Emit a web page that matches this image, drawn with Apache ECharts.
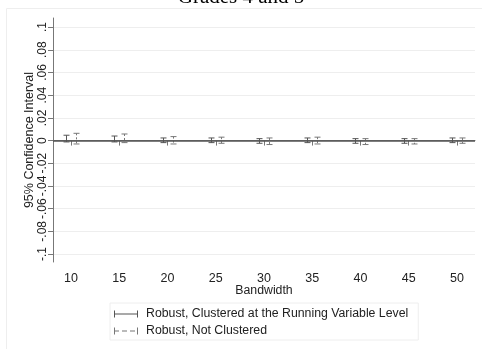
<!DOCTYPE html>
<html>
<head>
<meta charset="utf-8">
<script src="https://cdn.jsdelivr.net/npm/echarts@6/dist/echarts.min.js"></script>
<style>
  html, body { margin: 0; padding: 0; background: #fff; }
  #chart { width: 482px; height: 349px; }
</style>
</head>
<body>
<div id="chart"></div>
<script>
// bandwidths on the x axis
const bandwidth = [10, 15, 20, 25, 30, 35, 40, 45, 50]
// 95% CI, robust clustered at running variable level
const clustLow  = [-0.0012, -0.0012, -0.0018, -0.0018, -0.0024, -0.0018, -0.0024, -0.0024, -0.0018]
const clustHigh = [0.0047, 0.0040, 0.0023, 0.0023, 0.0017, 0.0023, 0.0017, 0.0017, 0.0023]
// 95% CI, robust not clustered
const robLow  = [-0.0030, -0.0018, -0.0030, -0.0024, -0.0035, -0.0030, -0.0035, -0.0030, -0.0024]
const robHigh = [0.0064, 0.0058, 0.0035, 0.0030, 0.0023, 0.0030, 0.0017, 0.0017, 0.0023]
// tick labels
const xTicks = [10, 15, 20, 25, 30, 35, 40, 45, 50]
const yTicks = [-0.1, -0.08, -0.06, -0.04, -0.02, 0, 0.02, 0.04, 0.06, 0.08, 0.1]

const names = ['Robust, Clustered at the Running Variable Level', 'Robust, Not Clustered']

function fmtY(v) {
    if (Math.abs(v) < 1e-9) return '0'
    let s = v.toFixed(2).replace(/0$/, '')
    return s.replace('0.', '.')
}

// draws one capped error bar, shifted a few pixels sideways
function makeBar(shift, dash, color) {
    return function (params, api) {
        const x = api.value(0)
        const top = api.coord([x, api.value(2)])
        const bot = api.coord([x, api.value(1)])
        const cx = Math.round(top[0] + shift) + 0.5
        const w = 3
        const st = { stroke: color, lineWidth: 1, fill: null }
        return {
            type: 'group',
            children: [
                { type: 'line', shape: { x1: cx, y1: top[1], x2: cx, y2: bot[1] }, style: Object.assign({}, st, { lineDash: dash }) },
                { type: 'line', shape: { x1: cx - w, y1: top[1], x2: cx + w, y2: top[1] }, style: st },
                { type: 'line', shape: { x1: cx - w, y1: bot[1], x2: cx + w, y2: bot[1] }, style: st }
            ]
        }
    }
}

let dom = document.getElementById("chart")
let myChart = echarts.init(dom)
var option
option = {
    animation: false,
    backgroundColor: '#fff',
    title: {
        text: 'Grades 4 and 5',
        left: 'center',
        top: -18,
        textStyle: { fontFamily: 'Liberation Serif', fontWeight: 'normal', fontSize: 21, color: '#000' }
    },
    graphic: [{
        type: 'rect',
        shape: { x: 6.5, y: 8.5, width: 490, height: 360 },
        style: { fill: null, stroke: '#eeeeee', lineWidth: 1 },
        silent: true
    }],
    grid: { left: 53, right: 7, top: 18, bottom: 87 },
    legend: {
        orient: 'vertical',
        left: 110,
        top: 303,
        padding: [5, 10, 3, 4],
        itemGap: 5,
        itemWidth: 24,
        itemHeight: 7,
        borderColor: '#eeeeee',
        borderWidth: 1,
        textStyle: { fontFamily: 'Liberation Sans', fontSize: 12.3, color: '#222', padding: [0, 0, 0, 3] },
        data: [
            { name: names[0], icon: 'path://M0,0h1v3h22v-3h1v7h-1v-3h-22v3h-1z' },
            { name: names[1], icon: 'path://M0,0h1v3h4v1h-4v3h-1z M8,3h5v1h-5z M16,3h5v1h-5z M23,0h1v7h-1z' }
        ]
    },
    xAxis: {
        type: 'value',
        min: 8.13,
        max: 51.87,
        name: 'Bandwidth',
        nameLocation: 'middle',
        nameMoveOverlap: false,
        nameGap: 23,
        nameTextStyle: { fontFamily: 'Liberation Sans', fontSize: 12.3, color: '#222' },
        axisLine: { show: true, lineStyle: { color: '#777', width: 1 } },
        axisTick: { show: true, length: 5, customValues: xTicks, lineStyle: { color: '#777' } },
        axisLabel: { customValues: xTicks, margin: 10, fontFamily: 'Liberation Sans', fontSize: 12.5, color: '#222' },
        splitLine: { show: false }
    },
    yAxis: {
        type: 'value',
        min: -0.107,
        max: 0.108,
        name: '95% Confidence Interval',
        nameLocation: 'middle',
        nameMoveOverlap: false,
        nameRotate: 90,
        nameGap: 17,
        nameTextStyle: { fontFamily: 'Liberation Sans', fontSize: 12.5, color: '#222' },
        axisLine: { show: true, lineStyle: { color: '#777', width: 1 } },
        axisTick: { show: true, length: 5, customValues: yTicks, lineStyle: { color: '#777' } },
        axisLabel: { customValues: yTicks, rotate: 90, margin: 4, formatter: fmtY, fontFamily: 'Liberation Sans', fontSize: 12, color: '#222' },
        splitLine: { show: true, lineStyle: { color: '#eeeeee', width: 1 } }
    },
    series: [{
        name: names[0],
        type: 'custom',
        color: '#555',
        renderItem: makeBar(-5, null, '#555'),
        data: bandwidth.map((b, i) => [b, clustLow[i], clustHigh[i]]),
        encode: { x: 0, y: [1, 2] },
        markLine: {
            silent: true,
            symbol: 'none',
            label: { show: false },
            lineStyle: { color: '#555', width: 1.5, type: 'solid' },
            data: [{ yAxis: 0 }]
        },
        z: 3
    }, {
        name: names[1],
        type: 'custom',
        color: '#777',
        renderItem: makeBar(5, [2, 2], '#777'),
        data: bandwidth.map((b, i) => [b, robLow[i], robHigh[i]]),
        encode: { x: 0, y: [1, 2] },
        z: 3
    }]
}
if (option && typeof option === 'object') {
    myChart.setOption(option)
}
</script>
</body>
</html>
